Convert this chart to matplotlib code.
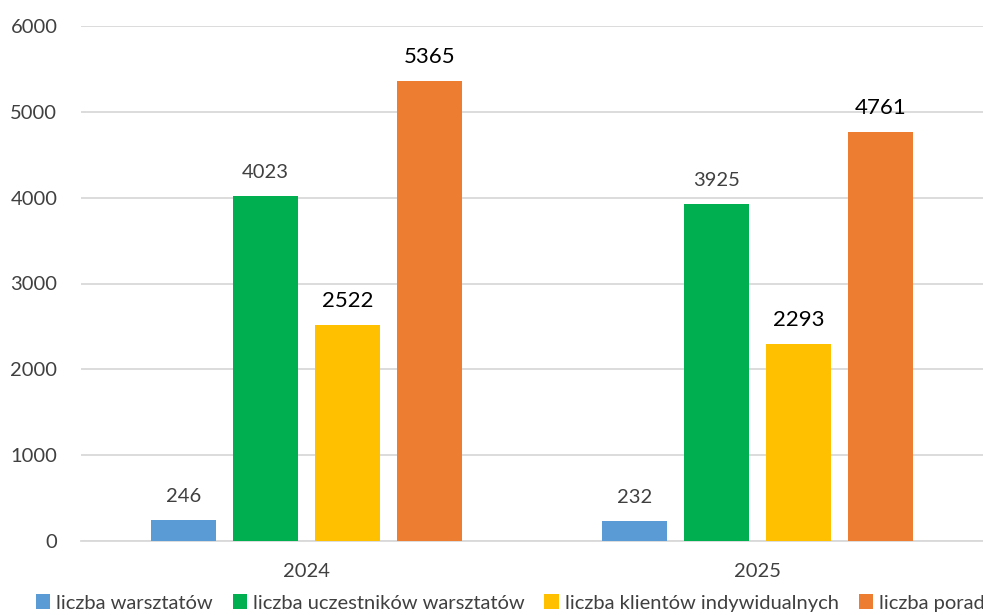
import matplotlib
matplotlib.use("Agg")
import matplotlib.pyplot as plt
import numpy as np

categories = ["2024", "2025"]
series_names = ["liczba warsztatów", "liczba uczestników warsztatów",
                "liczba klientów indywidualnych", "liczba porad"]
values = [
    [246, 232],
    [4023, 3925],
    [2522, 2293],
    [5365, 4761],
]
colors = ["#5B9BD5", "#00B050", "#FFC000", "#ED7D31"]
label_colors = ["#404040", "#404040", "#000000", "#000000"]
label_sizes = [14.5, 14.5, 16, 16]
yticks = [0, 1000, 2000, 3000, 4000, 5000, 6000]

plt.rcParams['font.family'] = ['Lato', 'DejaVu Sans']

fig = plt.figure(figsize=(9.83, 6.15), dpi=100)
ax = fig.add_axes([81/983, 1-541/615, 1-81/983, (541-26)/615])

x = np.arange(len(categories))
slot = 82/451
width = 65/451
for j, (name, vals) in enumerate(zip(series_names, values)):
    pos = x + (j - 1.5) * slot
    bars = ax.bar(pos, vals, width, color=colors[j], label=name, zorder=3)
    for b, v in zip(bars, vals):
        ax.annotate(str(v), (b.get_x() + b.get_width()/2, v),
                    xytext=(0, 18), textcoords='offset pixels',
                    ha='center', va='baseline',
                    fontsize=label_sizes[j], color=label_colors[j])

ax.set_xlim(-0.5, 1.5)
ax.set_ylim(0, 6000)
ax.set_yticks(yticks)
ax.set_xticks(x)
ax.set_xticklabels(categories)
ax.yaxis.grid(True, color="#D9D9D9", linewidth=1.3, zorder=0)
for s in ["top", "right", "left"]:
    ax.spines[s].set_visible(False)
ax.spines["bottom"].set_color("#D9D9D9")
ax.spines["bottom"].set_linewidth(1.3)
ax.tick_params(axis='y', length=0, pad=17, labelsize=14.5, labelcolor="#404040")
ax.tick_params(axis='x', length=0, pad=16, labelsize=14.5, labelcolor="#404040")

leg = fig.legend(loc='center', bbox_to_anchor=(0.519, 1-603/615), ncol=4,
                 frameon=False, fontsize=14.5, handlelength=0.7, handleheight=0.7,
                 handletextpad=0.3, columnspacing=1.0, borderaxespad=0)
for t in leg.get_texts():
    t.set_color("#404040")

fig.savefig("out.png", dpi=100)
